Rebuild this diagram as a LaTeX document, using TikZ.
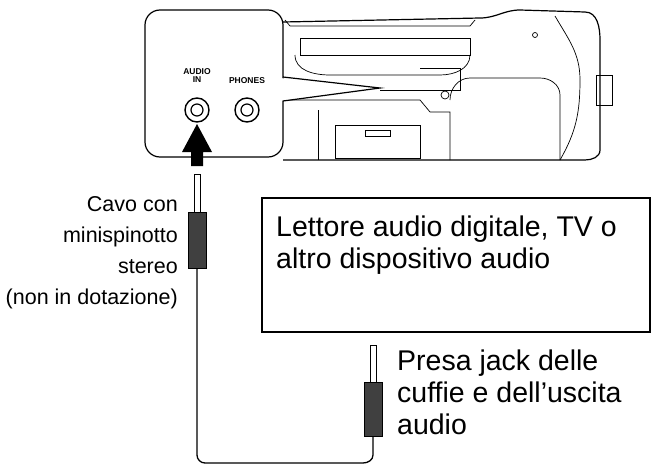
\documentclass[tikz,border=0pt]{standalone}
\usepackage{fontspec}
\setmainfont{Liberation Sans}
\usetikzlibrary{positioning}
\begin{document}
\begin{tikzpicture}[x=1pt,y=-1pt,
  outline/.style={draw, line width=1.2pt},
  thin/.style={draw, line width=0.7pt},
  jack/.style={draw, circle, line width=1.4pt, minimum size=24pt, inner sep=0pt},
  tiny/.style={font=\fontsize{8.5}{8}\selectfont\bfseries, align=center},
  lbl/.style={font=\fontsize{28.5}{32}\selectfont, align=left, inner sep=0pt},
  lbls/.style={font=\fontsize{21.5}{31}\selectfont, align=right, inner sep=0pt},
  plug/.style={fill=black!75, draw=black, line width=0.8pt}
]
\useasboundingbox (0,0) rectangle (656,474);

% --- device body ---
\draw[outline] (283,22) -- (480,18) to[out=0,in=180] (520,10) -- (585,12)
  to[out=0,in=90] (600,40) -- (600,150) to[out=-90,in=0] (585,160) -- (283,160);
\draw[thin] (300,38) -- (470,38) -- (470,55) -- (300,55) -- cycle;
\draw[thin] (285,20) -- (290,26) -- (470,26) -- (475,20);
\draw[thin] (295,55) to[out=-90,in=180] (330,75) -- (440,75) to[out=0,in=-90] (470,55);
\draw[thin] (420,68) -- (460,68) -- (460,90) -- (380,90);
\draw[thin] (283,100) -- (420,100) -- (430,112) -- (450,112) -- (450,160);
\draw[thin] (318,110) -- (318,160);
\draw[thin] (335,125) -- (420,125) -- (420,158) -- (335,158) -- cycle;
\draw[thin] (365,130) -- (390,130) -- (390,136) -- (365,136) -- cycle;
\draw[thin] (450,100) to[out=90,in=180] (470,78) -- (540,78) to[out=0,in=90] (560,95) -- (560,160);
\draw[thin] (555,16) to[out=-60,in=90] (580,80) to[out=-90,in=60] (560,160);
\draw[thin] (596,75) rectangle (612,105);
\draw[thin] (535,35) circle (2.5);
\draw[thin] (445,95) circle (4);

% --- inset ---
\draw[outline, fill=white, rounded corners=15]
  (145,10) rectangle (283,157);
\fill[white] (280,78) -- (380,88) -- (280,101) -- cycle;
\draw[outline] (283,77) -- (380,88) -- (283,101);
\node[tiny] (inlbl) at (197,76) {AUDIO\\IN};
\node[tiny] (phlbl) at (247,81) {PHONES};
\node[jack] (audioin) at (197,110) {};
\node[jack, minimum size=12pt, line width=1.2pt] at (audioin) {};
\node[jack] (phones) at (247,110) {};
\node[jack, minimum size=12pt, line width=1.2pt] at (phones) {};

% --- big arrow ---
\fill (191,166) -- (191,152) -- (182,152) -- (197,124) -- (212,152) -- (203,152) -- (203,166) -- cycle;

% --- plugs and cable ---
\draw[thin, fill=white] (194,174) rectangle (200,212);
\draw[thin, fill=white] (370,345) rectangle (376,382);
\draw[plug] (188,212) rectangle (206,268);
\draw[plug] (364,382) rectangle (382,436);
\draw[line width=1.3pt] (197,268) -- (197,455) to[out=-90,in=180] (205,463) -- (363,463)
  to[out=0,in=-90] (373,455) -- (373,436);

% --- box ---
\draw[outline] (262,198) rectangle (650,332);
\node[lbl, anchor=north west] (device) at (276,216) {Lettore audio digitale, TV o\\altro dispositivo audio};

% --- labels ---
\node[lbls, anchor=north east] (cable) at (178,196) {Cavo con\\minispinotto\\stereo\\(non in dotazione)};
\node[lbl, anchor=north west] (jacklbl) at (397,350) {Presa jack delle\\cuffie e dell’uscita\\audio};
\end{tikzpicture}
\end{document}
